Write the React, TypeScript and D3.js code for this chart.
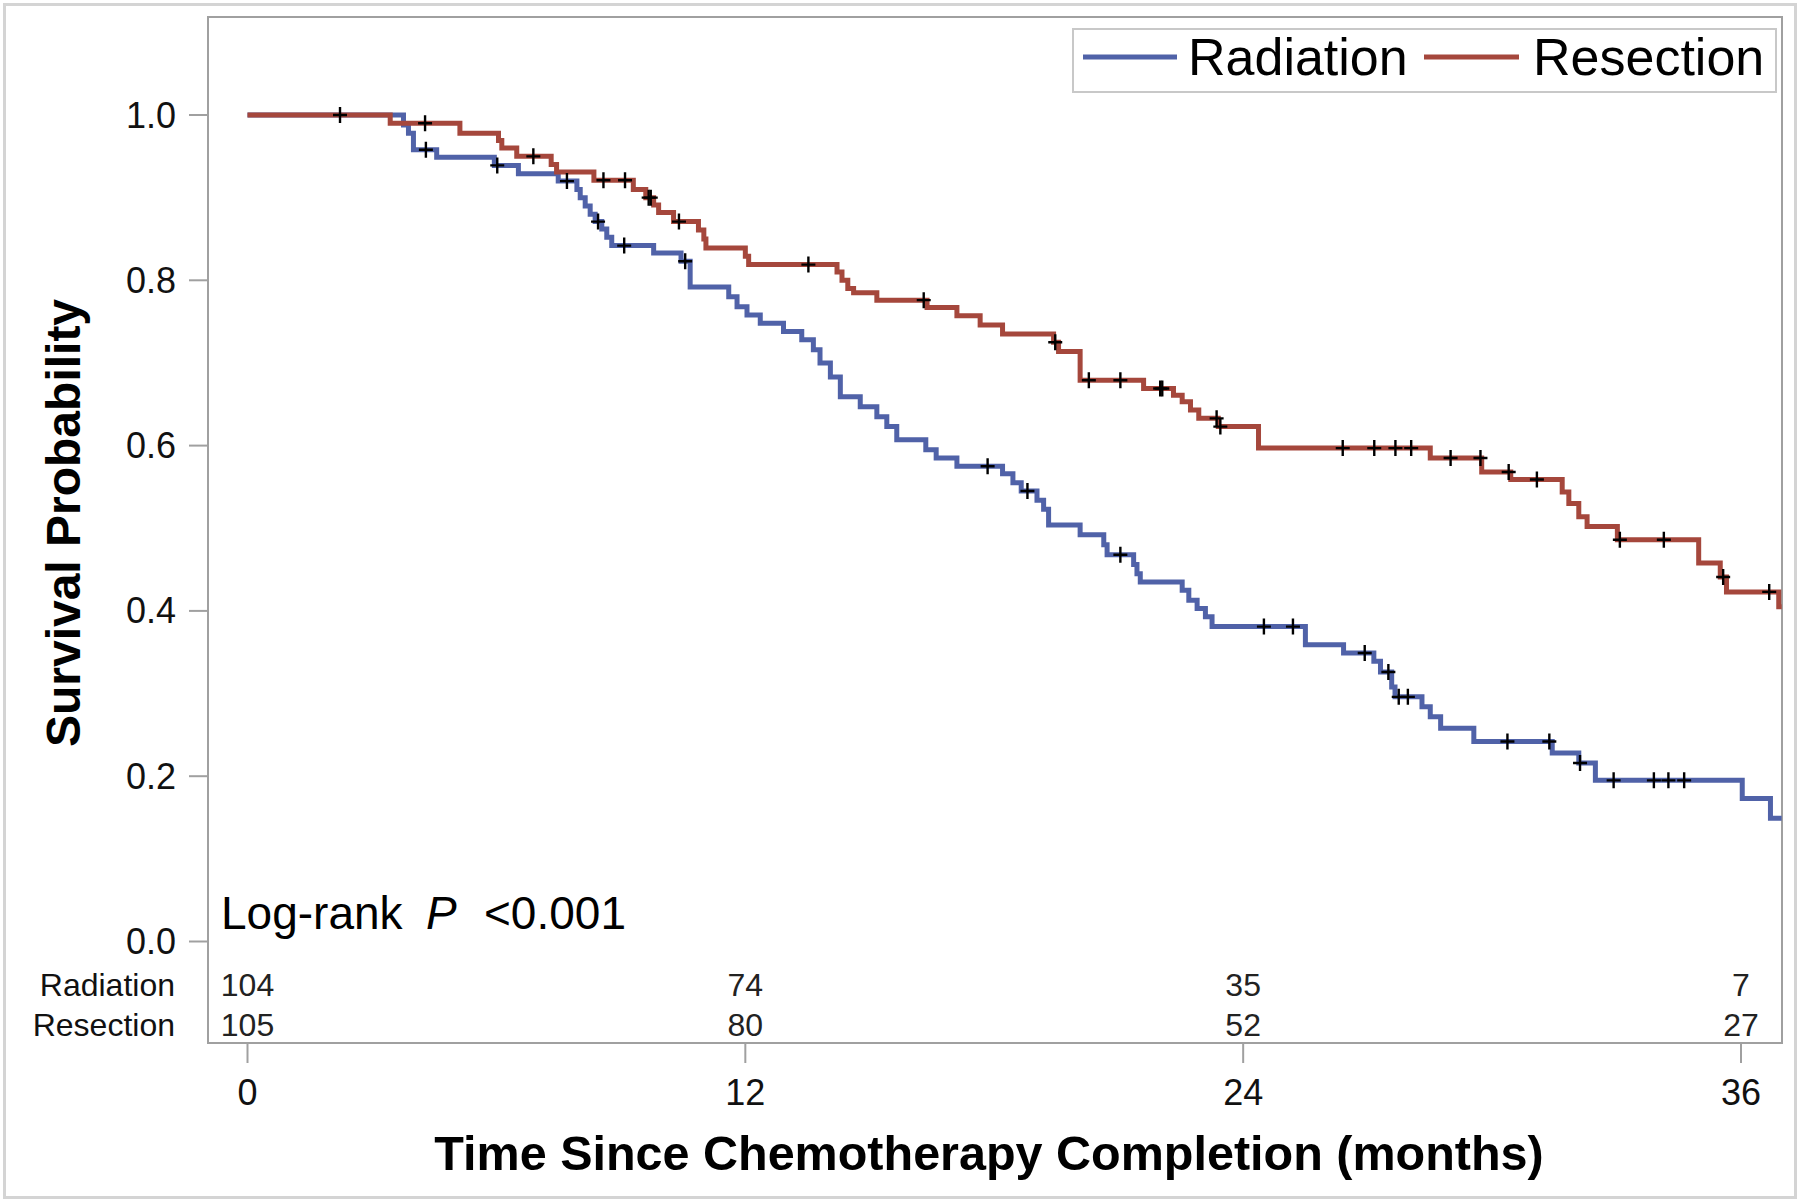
import React from "react";
import * as d3 from "d3";

// ---- Data ----
const radiationSteps: [number, number][] = [
  [0, 1], [3.76, 0.988], [3.88, 0.978], [4.0, 0.958], [4.56, 0.949], [5.95, 0.939],
  [6.53, 0.929], [7.49, 0.92], [7.94, 0.91], [8.02, 0.9], [8.14, 0.89], [8.26, 0.88],
  [8.38, 0.871], [8.54, 0.862], [8.66, 0.852], [8.78, 0.842], [9.79, 0.833], [10.45, 0.823],
  [10.67, 0.792], [11.6, 0.78], [11.8, 0.768], [12.04, 0.758], [12.36, 0.748], [12.92, 0.738],
  [13.36, 0.728], [13.64, 0.716], [13.8, 0.7], [14.05, 0.683], [14.29, 0.659], [14.77, 0.647],
  [15.17, 0.635], [15.41, 0.623], [15.65, 0.607], [16.35, 0.595], [16.6, 0.585], [17.1, 0.575],
  [18.2, 0.566], [18.45, 0.555], [18.65, 0.545], [19.03, 0.534], [19.19, 0.523], [19.31, 0.504],
  [20.07, 0.492], [20.64, 0.48], [20.72, 0.468], [21.36, 0.456], [21.44, 0.445], [21.52, 0.435],
  [22.53, 0.425], [22.69, 0.413], [22.89, 0.403], [23.09, 0.393], [23.25, 0.381], [25.5, 0.359],
  [26.42, 0.349], [27.15, 0.339], [27.31, 0.326], [27.58, 0.308], [27.66, 0.296], [28.31, 0.284],
  [28.51, 0.272], [28.76, 0.258], [29.56, 0.242], [31.45, 0.228], [32.09, 0.216], [32.49, 0.195],
  [36.03, 0.173], [36.71, 0.149], [36.98, 0.149],
];
const radiationCensor: number[] = [
  4.3, 6.02, 7.7, 8.45, 9.08, 10.55, 17.84, 18.8, 21.04, 24.5, 25.2, 26.93, 27.5, 27.75, 27.97,
  30.37, 31.38, 32.12, 32.93, 33.9, 34.25, 34.63,
];

const resectionSteps: [number, number][] = [
  [0, 1], [3.44, 0.99], [5.12, 0.978], [6.05, 0.969], [6.13, 0.96], [6.49, 0.95], [7.32, 0.94],
  [7.45, 0.931], [8.35, 0.921], [9.3, 0.91], [9.6, 0.9], [9.79, 0.891], [9.91, 0.882],
  [10.27, 0.871], [10.87, 0.861], [11.0, 0.85], [11.05, 0.839], [12.0, 0.829], [12.08, 0.819],
  [14.21, 0.81], [14.33, 0.8], [14.47, 0.79], [14.61, 0.785], [15.17, 0.776], [16.38, 0.767],
  [17.1, 0.757], [17.66, 0.746], [18.2, 0.735], [19.43, 0.725], [19.55, 0.714], [20.07, 0.679],
  [21.6, 0.669], [22.32, 0.661], [22.53, 0.653], [22.73, 0.643], [22.93, 0.633], [23.4, 0.623],
  [24.37, 0.597], [28.51, 0.585], [29.75, 0.568], [30.45, 0.559], [31.69, 0.544], [31.85, 0.53],
  [32.09, 0.514], [32.29, 0.502], [33.02, 0.486], [34.98, 0.458], [35.5, 0.441], [35.65, 0.423],
  [36.91, 0.405], [36.98, 0.405],
];
const resectionCensor: number[] = [
  2.23, 4.28, 6.89, 8.58, 9.1, 9.67, 9.72, 10.4, 13.52, 16.3, 19.47, 20.28, 21.04, 22.0, 22.05,
  23.36, 23.45, 26.4, 27.16, 27.67, 28.05, 29.0, 29.72, 30.4, 31.08, 33.08, 34.14, 35.57, 36.68,
];

const xTicks = [0, 12, 24, 36];
const yTicks = [0, 0.2, 0.4, 0.6, 0.8, 1.0];
const atRiskTimes = [0, 12, 24, 36];
const radiationAtRisk = [104, 74, 35, 7];
const resectionAtRisk = [105, 80, 52, 27];
const groups = ["Radiation", "Resection"];

// ---- Layout ----
const W = 1800;
const H = 1203;
const FONT = "'Liberation Sans', Arial, Helvetica, sans-serif";
const BLUE = "#5062a8";
const RED = "#a5473c";
const frame = { x0: 208, x1: 1782, y0: 17, y1: 1043 };

const x = d3.scaleLinear().domain([0, 36]).range([247.5, 1741]);
const y = d3.scaleLinear().domain([0, 1]).range([941.5, 115]);

const line = d3
  .line<[number, number]>()
  .x((d) => x(d[0]))
  .y((d) => y(d[1]))
  .curve(d3.curveStepAfter);

function survAt(steps: [number, number][], t: number) {
  let s = 1;
  for (const [ti, si] of steps) if (ti <= t) s = si;
  return s;
}

function Censors({ steps, times }: { steps: [number, number][]; times: number[] }) {
  return (
    <g stroke="#000" strokeWidth={2.4}>
      {times.map((t, i) => {
        const cx = x(t);
        const cy = y(survAt(steps, t));
        return <path key={i} d={`M${cx - 7},${cy}H${cx + 7}M${cx},${cy - 8}V${cy + 8}`} />;
      })}
    </g>
  );
}

export default function App() {
  const rowY = [996, 1036];
  return (
    <svg
      width={W}
      height={H}
      viewBox={`0 0 ${W} ${H}`}
      style={{ position: "absolute", left: 0, top: 0, background: "#fff" }}
      fontFamily={FONT}
    >
      <rect x={0} y={0} width={W} height={H} fill="#fff" />
      <rect x={4.5} y={4.5} width={W - 9} height={H - 10} fill="none" stroke="#d4d4d4" strokeWidth={3} />
      {/* plot frame */}
      <rect
        x={frame.x0}
        y={frame.y0}
        width={frame.x1 - frame.x0}
        height={frame.y1 - frame.y0}
        fill="#fff"
        stroke="#a0a0a0"
        strokeWidth={2}
      />
      {/* y axis */}
      {yTicks.map((v) => (
        <g key={v}>
          <line x1={189} x2={frame.x0} y1={y(v)} y2={y(v)} stroke="#a0a0a0" strokeWidth={2} />
          <text x={176} y={y(v) + 12.5} fontSize={36} textAnchor="end" fill="#111">
            {v.toFixed(1)}
          </text>
        </g>
      ))}
      <text
        transform={`translate(80,523) rotate(-90)`}
        fontSize={48}
        fontWeight="bold"
        textAnchor="middle"
        fill="#000"
      >
        Survival Probability
      </text>
      {/* x axis */}
      {xTicks.map((v) => (
        <g key={v}>
          <line x1={x(v)} x2={x(v)} y1={frame.y1} y2={1063} stroke="#a0a0a0" strokeWidth={2} />
          <text x={x(v)} y={1105} fontSize={36} textAnchor="middle" fill="#111">
            {v}
          </text>
        </g>
      ))}
      <text x={989} y={1170} fontSize={48.5} fontWeight="bold" textAnchor="middle" fill="#000">
        Time Since Chemotherapy Completion (months)
      </text>
      {/* curves */}
      <path d={line(radiationSteps) || ""} fill="none" stroke={BLUE} strokeWidth={5} />
      <path d={line(resectionSteps) || ""} fill="none" stroke={RED} strokeWidth={5} />
      <Censors steps={radiationSteps} times={radiationCensor} />
      <Censors steps={resectionSteps} times={resectionCensor} />
      {/* log-rank */}
      <text x={221} y={929} fontSize={46} fill="#000">
        Log-rank
        <tspan x={426} fontStyle="italic">P</tspan>
        <tspan x={484}>&lt;0.001</tspan>
      </text>
      {/* at-risk table */}
      {groups.map((g, gi) => (
        <text key={g} x={175} y={rowY[gi]} fontSize={32} textAnchor="end" fill="#111">
          {g}
        </text>
      ))}
      {atRiskTimes.map((t, i) => (
        <g key={t}>
          <text x={x(t)} y={rowY[0]} fontSize={32} textAnchor="middle" fill="#222">
            {radiationAtRisk[i]}
          </text>
          <text x={x(t)} y={rowY[1]} fontSize={32} textAnchor="middle" fill="#222">
            {resectionAtRisk[i]}
          </text>
        </g>
      ))}
      {/* legend */}
      <rect x={1073} y={29} width={703} height={63} fill="#fff" stroke="#c8c8c8" strokeWidth={2} />
      <line x1={1083} x2={1177} y1={57} y2={57} stroke={BLUE} strokeWidth={5} />
      <text x={1188} y={75} fontSize={52} fill="#000">
        {groups[0]}
      </text>
      <line x1={1424} x2={1519} y1={57} y2={57} stroke={RED} strokeWidth={5} />
      <text x={1533} y={75} fontSize={52} fill="#000">
        {groups[1]}
      </text>
    </svg>
  );
}
